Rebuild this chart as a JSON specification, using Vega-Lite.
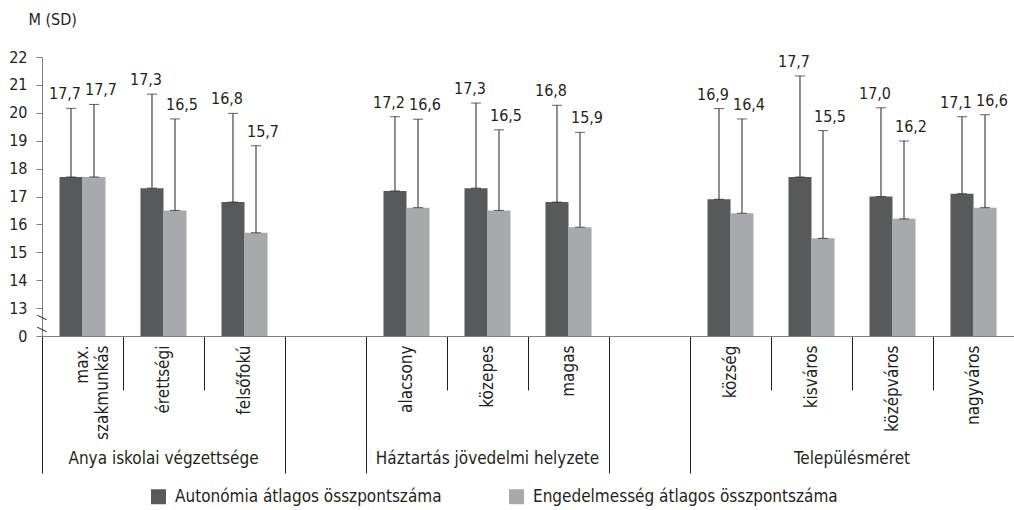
{
  "$schema": "https://vega.github.io/schema/vega-lite/v6.json",
  "width": 972,
  "height": 279,
  "autosize": {"type": "none"},
  "padding": {"left": 42, "top": 57, "right": 0, "bottom": 174},
  "config": {
    "view": {"stroke": null},
    "font": "'DejaVu Sans Condensed', 'Roboto Condensed', Roboto",
    "axis": {"labelFont": "'DejaVu Sans Condensed', 'Roboto Condensed', Roboto", "titleFont": "'DejaVu Sans Condensed', 'Roboto Condensed', Roboto", "labelColor": "#231f20", "titleColor": "#231f20", "grid": false},
    "axisY": {"labelOverlap": false},
    "legend": {"labelFont": "'DejaVu Sans Condensed', 'Roboto Condensed', Roboto", "labelColor": "#231f20"},
    "text": {"font": "'DejaVu Sans Condensed', 'Roboto Condensed', Roboto", "color": "#231f20"}
  },
  "data": {
    "values": [
      {"cat": "max. szakmunkás", "series": "Autonómia átlagos összpontszáma", "mean": 17.7, "sd": 2.46},
      {"cat": "max. szakmunkás", "series": "Engedelmesség átlagos összpontszáma", "mean": 17.7, "sd": 2.6},
      {"cat": "érettségi", "series": "Autonómia átlagos összpontszáma", "mean": 17.3, "sd": 3.37},
      {"cat": "érettségi", "series": "Engedelmesség átlagos összpontszáma", "mean": 16.5, "sd": 3.28},
      {"cat": "felsőfokú", "series": "Autonómia átlagos összpontszáma", "mean": 16.8, "sd": 3.18},
      {"cat": "felsőfokú", "series": "Engedelmesség átlagos összpontszáma", "mean": 15.7, "sd": 3.12},
      {"cat": "alacsony", "series": "Autonómia átlagos összpontszáma", "mean": 17.2, "sd": 2.66},
      {"cat": "alacsony", "series": "Engedelmesség átlagos összpontszáma", "mean": 16.6, "sd": 3.17},
      {"cat": "közepes", "series": "Autonómia átlagos összpontszáma", "mean": 17.3, "sd": 3.05},
      {"cat": "közepes", "series": "Engedelmesség átlagos összpontszáma", "mean": 16.5, "sd": 2.89},
      {"cat": "magas", "series": "Autonómia átlagos összpontszáma", "mean": 16.8, "sd": 3.47},
      {"cat": "magas", "series": "Engedelmesség átlagos összpontszáma", "mean": 15.9, "sd": 3.4},
      {"cat": "község", "series": "Autonómia átlagos összpontszáma", "mean": 16.9, "sd": 3.25},
      {"cat": "község", "series": "Engedelmesség átlagos összpontszáma", "mean": 16.4, "sd": 3.38},
      {"cat": "kisváros", "series": "Autonómia átlagos összpontszáma", "mean": 17.7, "sd": 3.62},
      {"cat": "kisváros", "series": "Engedelmesség átlagos összpontszáma", "mean": 15.5, "sd": 3.86},
      {"cat": "középváros", "series": "Autonómia átlagos összpontszáma", "mean": 17.0, "sd": 3.18},
      {"cat": "középváros", "series": "Engedelmesség átlagos összpontszáma", "mean": 16.2, "sd": 2.79},
      {"cat": "nagyváros", "series": "Autonómia átlagos összpontszáma", "mean": 17.1, "sd": 2.76},
      {"cat": "nagyváros", "series": "Engedelmesség átlagos összpontszáma", "mean": 16.6, "sd": 3.33}
    ]
  },
  "transform": [
    {"calculate": "datum.mean + datum.sd", "as": "upper"},
    {"calculate": "replace(format(datum.mean, '.1f'), '.', ',')", "as": "lbl"}
  ],
  "layer": [
    {
      "mark": {"type": "bar"},
      "encoding": {
        "x": {"field": "cat", "type": "nominal", "sort": null,
          "scale": {"domain": ["max. szakmunkás", "érettségi", "felsőfokú", "_g1", "alacsony", "közepes", "magas", "_g2", "község", "kisváros", "középváros", "nagyváros"], "paddingInner": 0, "paddingOuter": 0},
          "axis": {"orient": "bottom", "title": null, "bandPosition": 0,
            "tickSize": {"condition": {"test": "indexof(['max. szakmunkás','_g1','alacsony','_g2','község'], datum.value) >= 0", "value": 137}, "value": 54},
            "labelPadding": {"condition": {"test": "indexof(['max. szakmunkás','_g1','alacsony','_g2','község'], datum.value) >= 0", "value": -128}, "value": -45},
            "tickColor": "#231f20", "domainColor": "#808080",
            "labelAngle": -90, "labelAlign": "right", "labelBaseline": "middle", "labelFontSize": 17, "labelLineHeight": 20,
            "labelExpr": "datum.value == 'max. szakmunkás' ? ['max.', 'szakmunkás'] : (slice(datum.value, 0, 1) == '_' ? '' : datum.label)"}},
        "xOffset": {"field": "series", "type": "nominal", "sort": null, "scale": {"paddingOuter": 0.76, "paddingInner": 0}},
        "y": {"field": "mean", "type": "quantitative", "scale": {"domain": [12, 22], "zero": false, "nice": false},
          "axis": {"title": "M (SD)", "titleAngle": 0, "titleAlign": "left", "titleBaseline": "middle", "titleX": -14, "titleY": -38, "titleFontSize": 16, "titleFontWeight": "normal",
            "values": [12, 13, 14, 15, 16, 17, 18, 19, 20, 21, 22], "labelExpr": "datum.value == 12 ? '0' : datum.label", "labelOverlap": false,
            "tickSize": 6, "labelPadding": 9, "domainColor": "#808080", "tickColor": "#808080", "labelFontSize": 16}},
        "y2": {"datum": 12},
        "color": {"field": "series", "type": "nominal", "sort": null,
          "scale": {"domain": ["Autonómia átlagos összpontszáma", "Engedelmesség átlagos összpontszáma"], "range": ["#58595b", "#a7a9ac"]},
          "legend": {"orient": "none", "legendX": 108, "legendY": 431, "direction": "horizontal", "title": null, "symbolType": "square", "symbolSize": 225, "symbolStrokeWidth": 0, "labelFontSize": 17, "labelOffset": 8, "columnPadding": 66, "padding": 0, "labelLimit": 0}}
      }
    },
    {
      "mark": {"type": "rule", "color": "#231f20", "strokeWidth": 1},
      "encoding": {
        "x": {"field": "cat", "type": "nominal", "sort": null,
          "scale": {"domain": ["max. szakmunkás", "érettségi", "felsőfokú", "_g1", "alacsony", "közepes", "magas", "_g2", "község", "kisváros", "középváros", "nagyváros"], "paddingInner": 0, "paddingOuter": 0},
          "axis": {"orient": "bottom", "title": null, "values": ["érettségi", "közepes", "kisváros"],
            "labelExpr": "datum.value == 'érettségi' ? 'Anya iskolai végzettsége' : (datum.value == 'közepes' ? 'Háztartás jövedelmi helyzete' : 'Településméret')",
            "labelOffset": {"condition": {"test": "datum.value == 'kisváros'", "value": 40.5}, "value": 0},
            "labelAngle": 0, "labelAlign": "center", "labelBaseline": "middle", "labelPadding": 122, "ticks": false, "domain": false, "labelFontSize": 17, "labelLimit": 0}},
        "xOffset": {"field": "series", "type": "nominal", "sort": null, "scale": {"paddingOuter": 0.76, "paddingInner": 0}},
        "y": {"field": "mean", "type": "quantitative", "scale": {"domain": [12, 22], "zero": false, "nice": false},
          "axis": {"title": "M (SD)", "titleAngle": 0, "titleAlign": "left", "titleBaseline": "middle", "titleX": -14, "titleY": -38, "titleFontSize": 16, "titleFontWeight": "normal",
            "values": [12, 13, 14, 15, 16, 17, 18, 19, 20, 21, 22], "labelExpr": "datum.value == 12 ? '0' : datum.label", "labelOverlap": false,
            "tickSize": 6, "labelPadding": 9, "domainColor": "#808080", "tickColor": "#808080", "labelFontSize": 16}},
        "y2": {"field": "upper"}
      }
    },
    {
      "mark": {"type": "tick", "orient": "horizontal", "size": 10, "thickness": 1, "color": "#231f20"},
      "encoding": {
        "x": {"field": "cat", "type": "nominal", "sort": null,
          "scale": {"domain": ["max. szakmunkás", "érettségi", "felsőfokú", "_g1", "alacsony", "közepes", "magas", "_g2", "község", "kisváros", "középváros", "nagyváros"], "paddingInner": 0, "paddingOuter": 0}, "axis": null},
        "xOffset": {"field": "series", "type": "nominal", "sort": null, "scale": {"paddingOuter": 0.76, "paddingInner": 0}},
        "y": {"field": "upper", "type": "quantitative", "scale": {"domain": [12, 22], "zero": false, "nice": false},
          "axis": {"title": "M (SD)", "titleAngle": 0, "titleAlign": "left", "titleBaseline": "middle", "titleX": -14, "titleY": -38, "titleFontSize": 16, "titleFontWeight": "normal",
            "values": [12, 13, 14, 15, 16, 17, 18, 19, 20, 21, 22], "labelExpr": "datum.value == 12 ? '0' : datum.label", "labelOverlap": false,
            "tickSize": 6, "labelPadding": 9, "domainColor": "#808080", "tickColor": "#808080", "labelFontSize": 16}}
      }
    },
    {
      "mark": {"type": "tick", "orient": "horizontal", "size": 10, "thickness": 1, "color": "#231f20", "opacity": 0.7},
      "encoding": {
        "x": {"field": "cat", "type": "nominal", "sort": null,
          "scale": {"domain": ["max. szakmunkás", "érettségi", "felsőfokú", "_g1", "alacsony", "közepes", "magas", "_g2", "község", "kisváros", "középváros", "nagyváros"], "paddingInner": 0, "paddingOuter": 0}, "axis": null},
        "xOffset": {"field": "series", "type": "nominal", "sort": null, "scale": {"paddingOuter": 0.76, "paddingInner": 0}},
        "y": {"field": "mean", "type": "quantitative", "scale": {"domain": [12, 22], "zero": false, "nice": false},
          "axis": {"title": "M (SD)", "titleAngle": 0, "titleAlign": "left", "titleBaseline": "middle", "titleX": -14, "titleY": -38, "titleFontSize": 16, "titleFontWeight": "normal",
            "values": [12, 13, 14, 15, 16, 17, 18, 19, 20, 21, 22], "labelExpr": "datum.value == 12 ? '0' : datum.label", "labelOverlap": false,
            "tickSize": 6, "labelPadding": 9, "domainColor": "#808080", "tickColor": "#808080", "labelFontSize": 16}}
      }
    },
    {
      "transform": [{"filter": "datum.series == 'Autonómia átlagos összpontszáma'"}],
      "mark": {"type": "text", "fontSize": 16, "dx": -6, "dy": -9, "baseline": "alphabetic", "align": "center"},
      "encoding": {
        "x": {"field": "cat", "type": "nominal", "sort": null,
          "scale": {"domain": ["max. szakmunkás", "érettségi", "felsőfokú", "_g1", "alacsony", "közepes", "magas", "_g2", "község", "kisváros", "középváros", "nagyváros"], "paddingInner": 0, "paddingOuter": 0}, "axis": null},
        "xOffset": {"field": "series", "type": "nominal", "sort": null, "scale": {"paddingOuter": 0.76, "paddingInner": 0}},
        "y": {"field": "upper", "type": "quantitative", "scale": {"domain": [12, 22], "zero": false, "nice": false},
          "axis": {"title": "M (SD)", "titleAngle": 0, "titleAlign": "left", "titleBaseline": "middle", "titleX": -14, "titleY": -38, "titleFontSize": 16, "titleFontWeight": "normal",
            "values": [12, 13, 14, 15, 16, 17, 18, 19, 20, 21, 22], "labelExpr": "datum.value == 12 ? '0' : datum.label", "labelOverlap": false,
            "tickSize": 6, "labelPadding": 9, "domainColor": "#808080", "tickColor": "#808080", "labelFontSize": 16}},
        "text": {"field": "lbl"}
      }
    },
    {
      "transform": [{"filter": "datum.series == 'Engedelmesség átlagos összpontszáma'"}],
      "mark": {"type": "text", "fontSize": 16, "dx": 7, "dy": -9, "baseline": "alphabetic", "align": "center"},
      "encoding": {
        "x": {"field": "cat", "type": "nominal", "sort": null,
          "scale": {"domain": ["max. szakmunkás", "érettségi", "felsőfokú", "_g1", "alacsony", "közepes", "magas", "_g2", "község", "kisváros", "középváros", "nagyváros"], "paddingInner": 0, "paddingOuter": 0}, "axis": null},
        "xOffset": {"field": "series", "type": "nominal", "sort": null, "scale": {"paddingOuter": 0.76, "paddingInner": 0}},
        "y": {"field": "upper", "type": "quantitative", "scale": {"domain": [12, 22], "zero": false, "nice": false},
          "axis": {"title": "M (SD)", "titleAngle": 0, "titleAlign": "left", "titleBaseline": "middle", "titleX": -14, "titleY": -38, "titleFontSize": 16, "titleFontWeight": "normal",
            "values": [12, 13, 14, 15, 16, 17, 18, 19, 20, 21, 22], "labelExpr": "datum.value == 12 ? '0' : datum.label", "labelOverlap": false,
            "tickSize": 6, "labelPadding": 9, "domainColor": "#808080", "tickColor": "#808080", "labelFontSize": 16}},
        "text": {"field": "lbl"}
      }
    },
    {
      "data": {"values": [{"c": "max. szakmunkás", "brk": 12.25}, {"c": "max. szakmunkás", "brk": 12.68}]},
      "mark": {"type": "text", "text": "—", "fontSize": 13, "angle": 27, "align": "center", "baseline": "middle", "color": "#231f20", "dx": -36.1, "dy": 18.4},
      "encoding": {
        "x": {"field": "c", "type": "nominal",
          "scale": {"domain": ["max. szakmunkás", "érettségi", "felsőfokú", "_g1", "alacsony", "közepes", "magas", "_g2", "község", "kisváros", "középváros", "nagyváros"], "paddingInner": 0, "paddingOuter": 0}, "axis": null},
        "y": {"field": "brk", "type": "quantitative", "scale": {"domain": [12, 22], "zero": false, "nice": false},
          "axis": {"title": "M (SD)", "titleAngle": 0, "titleAlign": "left", "titleBaseline": "middle", "titleX": -14, "titleY": -38, "titleFontSize": 16, "titleFontWeight": "normal",
            "values": [12, 13, 14, 15, 16, 17, 18, 19, 20, 21, 22], "labelExpr": "datum.value == 12 ? '0' : datum.label", "labelOverlap": false,
            "tickSize": 6, "labelPadding": 9, "domainColor": "#808080", "tickColor": "#808080", "labelFontSize": 16}}
      }
    }
  ],
  "resolve": {"scale": {"x": "independent"}, "axis": {"x": "independent"}}
}
